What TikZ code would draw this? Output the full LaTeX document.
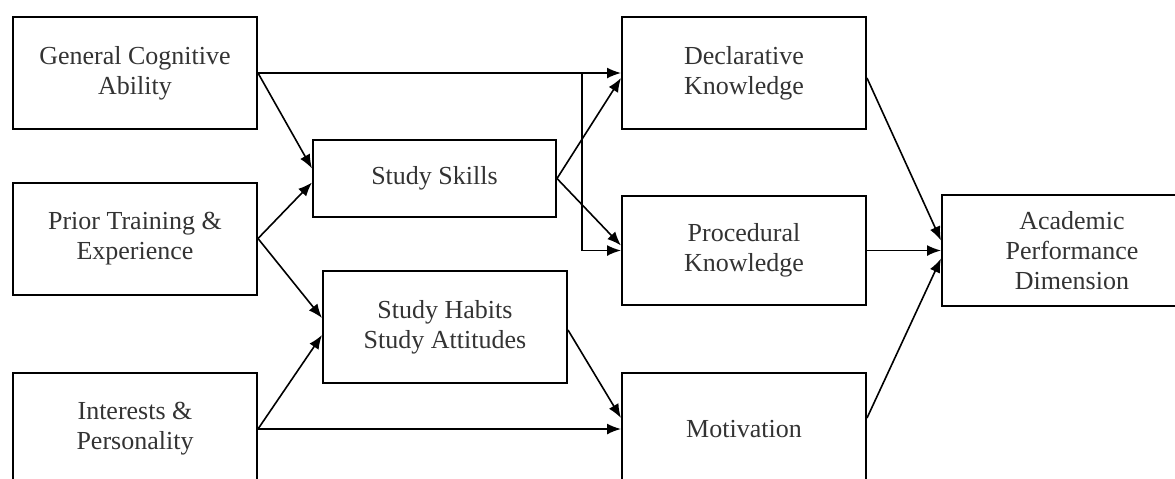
\documentclass[tikz,border=0pt]{standalone}
\usepackage{fontspec}
\setmainfont{Liberation Serif}
\usetikzlibrary{arrows.meta}
\tikzset{
  blk/.style={draw, line width=1pt, minimum width=122pt, minimum height=56pt,
    inner sep=0pt, align=center, text=black!80, font=\fontsize{13}{15}\selectfont},
  lnk/.style={line width=0.8pt, -{Latex[length=7pt,width=5.5pt]}}
}
\begin{document}
\begin{tikzpicture}[x=0.5pt,y=-0.5pt]
  \clip (0,0) rectangle (1175,478);

  \node[blk] (gca) at (135,73) {General Cognitive\\Ability};
  \node[blk] (prior) at (135,238.5) {Prior Training \&\\Experience};
  \node[blk] (intr) at (135,429) {Interests \&\\Personality};

  \node[blk, minimum width=121.5pt, minimum height=38.5pt] (skill) at (434.5,178.5) {Study Skills};
  \node[blk] (habit) at (445,327) {Study Habits\\Study Attitudes};

  \node[blk] (decl) at (744,73) {Declarative\\Knowledge};
  \node[blk, minimum height=54.5pt] (proc) at (744,250.5) {Procedural\\Knowledge};
  \node[blk] (motiv) at (744,429) {Motivation};

  \node[blk, minimum width=130pt, minimum height=55.5pt] (acad) at (1072,250.5)
    {Academic\\Performance\\Dimension};

  \coordinate (split) at (582,73);

  \draw[lnk] (gca.east) -- (decl.west);
  \draw[lnk] (gca.east) -- ([yshift=5pt]skill.west);
  \draw[lnk] (split) |- (proc.west);
  \draw[lnk] (prior.east) -- ([yshift=-2pt]skill.west);
  \draw[lnk] (prior.east) -- ([yshift=4.5pt]habit.west);
  \draw[lnk] (intr.east) -- ([yshift=-4pt]habit.west);
  \draw[lnk] (intr.east) -- (motiv.west);
  \draw[lnk] (skill.east) -- ([yshift=-2.5pt]decl.west);
  \draw[lnk] (skill.east) -- ([yshift=2.5pt]proc.west);
  \draw[lnk] ([yshift=-1.5pt]habit.east) -- ([yshift=5.5pt]motiv.west);
  \draw[lnk] ([yshift=-2.5pt]decl.east) -- ([yshift=5pt]acad.west);
  \draw[lnk] (proc.east) -- (acad.west);
  \draw[lnk] ([yshift=5.5pt]motiv.east) -- ([yshift=-4pt]acad.west);
\end{tikzpicture}
\end{document}
